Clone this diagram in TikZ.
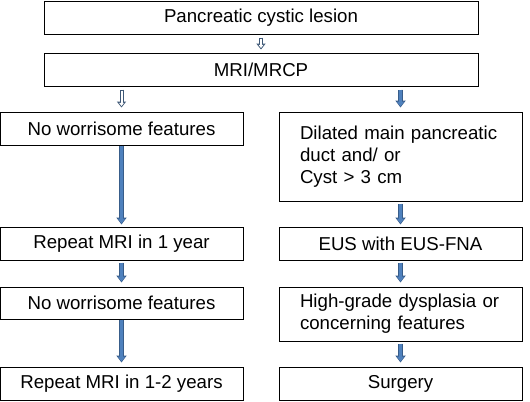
\documentclass[tikz,border=0pt]{standalone}
\usepackage{fontspec}
\setmainfont{Liberation Sans}
\usetikzlibrary{arrows.meta}

\definecolor{arrowdark}{RGB}{62,88,118}
\definecolor{arrowblue}{RGB}{79,129,189}
\definecolor{arrowedge}{RGB}{56,93,138}

\tikzset{
  box/.style={draw, line width=0.75pt, inner sep=0pt, align=center,
    font=\fontsize{14}{16.5}\selectfont},
  widebox/.style={box, minimum width=325.5pt, minimum height=24.75pt},
  colbox/.style={box, minimum width=182.25pt, minimum height=24.75pt},
  notebox/.style={box, text width=150.75pt, inner xsep=15.75pt, align=left},
  openarrow/.style={draw=arrowdark, line width=3pt,
    -{Triangle[width=6.75pt,length=4.5pt]},
    postaction={draw=white, line width=1.5pt,
      -{Triangle[width=3.6pt,length=2.4pt]}, shorten >=1.1pt, shorten <=0.75pt}},
  bluearrow/.style={draw=arrowedge, line width=3.75pt,
    -{Triangle[width=7.5pt,length=5.25pt]},
    postaction={draw=arrowblue, line width=2.25pt,
      -{Triangle[width=5.2pt,length=3.6pt]}, shorten >=0.8pt, shorten <=0pt}}
}

\begin{document}
\begin{tikzpicture}[x=0.75pt, y=-0.75pt]
    \useasboundingbox[fill=white] (0,0) rectangle (530,401);

    % === Inicio ===
    \node[widebox] (lesion) at (261, 17.5) {Pancreatic cystic lesion};
    \node[widebox] (mrcp) at (261, 69.5) {MRI/MRCP};

    % === Columna izquierda ===
    \node[colbox] (nofeat) at (121.5, 128.5) {No worrisome features};
    \node[colbox] (repone) at (121.5, 243.5) {Repeat MRI in 1 year};
    \node[colbox, minimum height=24pt] (nofeatb) at (121.5, 303) {No worrisome features};
    \node[colbox] (reptwo) at (121.5, 383.5) {Repeat MRI in 1-2 years};

    % === Columna derecha ===
    \node[notebox, minimum height=66.75pt] (dilated) at (400.5, 156.5)
      {Dilated main pancreatic\\duct and/ or\\Cyst > 3 cm};
    \node[colbox] (eus) at (400.5, 243.5) {EUS with EUS-FNA};
    \node[notebox, minimum height=40.5pt] (dysplasia) at (400.5, 314)
      {High-grade dysplasia or\\concerning features};
    \node[colbox] (surgery) at (400.5, 383.5) {Surgery};

    % Flechas huecas
    \draw[openarrow] ([yshift=-2.25pt]lesion.south) -- ([yshift=2.25pt]mrcp.north);
    \draw[openarrow] ([yshift=-2.25pt]mrcp.south -| nofeat.north) -- ([yshift=3pt]nofeat.north);

    % Flechas azules
    \draw[bluearrow] ([yshift=-2.25pt]mrcp.south -| dilated.north) -- ([yshift=3pt]dilated.north);
    \draw[bluearrow] (nofeat.south) -- ([yshift=1.5pt]repone.north);
    \draw[bluearrow] ([yshift=-1.5pt]repone.south) -- ([yshift=3pt]nofeatb.north);
    \draw[bluearrow] (nofeatb.south) -- ([yshift=3pt]reptwo.north);
    \draw[bluearrow] ([yshift=-1.5pt]dilated.south) -- ([yshift=1.5pt]eus.north);
    \draw[bluearrow] ([yshift=-1.5pt]eus.south) -- ([yshift=3pt]dysplasia.north);
    \draw[bluearrow] ([yshift=-1.5pt]dysplasia.south) -- ([yshift=3pt]surgery.north);
\end{tikzpicture}
\end{document}
